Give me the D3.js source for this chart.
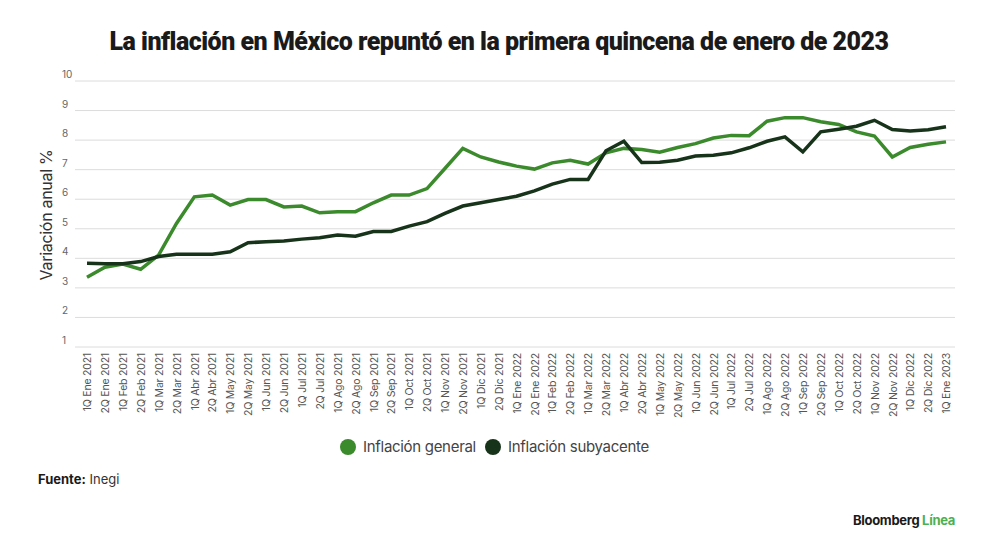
<!DOCTYPE html>
<html>
<head>
<meta charset="utf-8">
<script src="https://cdn.jsdelivr.net/npm/d3@7"></script>
<style>
  body { margin: 0; background: #fff; }
  svg { display: block; }
</style>
</head>
<body>
<div class="chart"></div>
<script>
const quincenas = [
  '1Q Ene 2021', '2Q Ene 2021', '1Q Feb 2021', '2Q Feb 2021', '1Q Mar 2021', '2Q Mar 2021',
  '1Q Abr 2021', '2Q Abr 2021', '1Q May 2021', '2Q May 2021', '1Q Jun 2021', '2Q Jun 2021',
  '1Q Jul 2021', '2Q Jul 2021', '1Q Ago 2021', '2Q Ago 2021', '1Q Sep 2021', '2Q Sep 2021',
  '1Q Oct 2021', '2Q Oct 2021', '1Q Nov 2021', '2Q Nov 2021', '1Q Dic 2021', '2Q Dic 2021',
  '1Q Ene 2022', '2Q Ene 2022', '1Q Feb 2022', '2Q Feb 2022', '1Q Mar 2022', '2Q Mar 2022',
  '1Q Abr 2022', '2Q Abr 2022', '1Q May 2022', '2Q May 2022', '1Q Jun 2022', '2Q Jun 2022',
  '1Q Jul 2022', '2Q Jul 2022', '1Q Ago 2022', '2Q Ago 2022', '1Q Sep 2022', '2Q Sep 2022',
  '1Q Oct 2022', '2Q Oct 2022', '1Q Nov 2022', '2Q Nov 2022', '1Q Dic 2022', '2Q Dic 2022',
  '1Q Ene 2023'
];

const general = [
  3.36, 3.70, 3.81, 3.63, 4.11, 5.18, 6.08, 6.14, 5.80, 5.99, 5.99, 5.74,
  5.77, 5.54, 5.58, 5.58, 5.88, 6.14, 6.14, 6.36, 7.04, 7.72, 7.43, 7.26,
  7.12, 7.02, 7.23, 7.32, 7.19, 7.57, 7.72, 7.68, 7.59, 7.75, 7.88, 8.07,
  8.16, 8.15, 8.64, 8.76, 8.76, 8.62, 8.53, 8.28, 8.14, 7.43, 7.75, 7.86,
  7.94
];

const subyacente = [
  3.83, 3.82, 3.82, 3.89, 4.06, 4.14, 4.14, 4.14, 4.22, 4.53, 4.56, 4.59,
  4.65, 4.70, 4.79, 4.75, 4.91, 4.91, 5.09, 5.24, 5.52, 5.77, 5.88, 5.99,
  6.10, 6.28, 6.51, 6.67, 6.67, 7.64, 7.96, 7.24, 7.25, 7.32, 7.46, 7.49,
  7.57, 7.74, 7.96, 8.11, 7.60, 8.28, 8.37, 8.47, 8.67, 8.36, 8.31, 8.35,
  8.45
];

const yTicks = [1, 2, 3, 4, 5, 6, 7, 8, 9, 10];

const series = [
  { name: 'Inflación general', values: general, color: '#3b8a2c' },
  { name: 'Inflación subyacente', values: subyacente, color: '#17331a' }
];

const width = 1000;
const height = 550;

const svg = d3.select('.chart')
  .append('svg')
  .attr('width', width)
  .attr('height', height);

const x = d3.scalePoint().domain(quincenas).range([87, 946]);
const y = d3.scaleLinear().domain([1, 10]).range([347, 81]);

// title
svg.append('text')
  .attr('x', 499)
  .attr('y', 50)
  .attr('text-anchor', 'middle')
  .attr('font-family', 'Roboto, sans-serif')
  .attr('font-weight', 900)
  .attr('font-size', 25)
  .attr('letter-spacing', -0.5)
  .attr('fill', '#1a1a1a')
  .text('La inflación en México repuntó en la primera quincena de enero de 2023');

// grid + y labels
const grid = svg.append('g').attr('class', 'grid');
grid.selectAll('line')
  .data(yTicks)
  .enter()
  .append('line')
  .attr('x1', 75)
  .attr('x2', 955)
  .attr('y1', d => y(d))
  .attr('y2', d => y(d))
  .attr('stroke', '#dcdcdc')
  .attr('stroke-width', 1);

grid.selectAll('text')
  .data(yTicks)
  .enter()
  .append('text')
  .attr('x', 62)
  .attr('y', d => y(d) - 3)
  .attr('font-family', 'Inter, sans-serif')
  .attr('font-size', 10)
  .attr('fill', '#666')
  .text(d => d);

svg.append('text')
  .attr('transform', 'translate(52, 215) rotate(-90)')
  .attr('text-anchor', 'middle')
  .attr('font-family', 'Inter, sans-serif')
  .attr('font-size', 16)
  .attr('letter-spacing', -0.3)
  .attr('fill', '#333')
  .text('Variación anual %');

// x axis labels
const xAxisGroup = svg.append('g')
  .attr('transform', `translate(0, 347)`);

const xAxis = d3.axisBottom(x).tickSize(0).tickPadding(0);
xAxisGroup.call(xAxis);
xAxisGroup.select('.domain').remove();
xAxisGroup.selectAll('text')
  .attr('transform', 'rotate(-90)')
  .attr('text-anchor', 'end')
  .attr('x', -6)
  .attr('y', 0)
  .attr('dy', '0.35em')
  .attr('font-family', 'Inter, sans-serif')
  .attr('font-size', 10.5)
  .attr('letter-spacing', -0.2)
  .attr('fill', '#555');

// lines
const line = d3.line()
  .x((d, i) => x(quincenas[i]))
  .y(d => y(d));

svg.append('g')
  .selectAll('path')
  .data(series)
  .enter()
  .append('path')
  .attr('fill', 'none')
  .attr('stroke', d => d.color)
  .attr('stroke-width', 3.5)
  .attr('stroke-linejoin', 'miter')
  .attr('d', d => line(d.values));

// legend
const legend = svg.append('g')
  .attr('font-family', 'Inter, sans-serif')
  .attr('font-size', 15);

const legendX = [348, 493];
series.forEach((s, i) => {
  legend.append('circle')
    .attr('cx', legendX[i])
    .attr('cy', 447)
    .attr('r', 8)
    .attr('fill', s.color);
  legend.append('text')
    .attr('x', legendX[i] + 15)
    .attr('y', 452)
    .attr('fill', '#444')
    .attr('letter-spacing', -0.3)
    .text(s.name);
});

// source
const src = svg.append('text')
  .attr('x', 38)
  .attr('y', 484)
  .attr('font-family', 'Inter, sans-serif')
  .attr('font-size', 13)
  .attr('fill', '#333');
src.append('tspan').attr('font-weight', 700).attr('fill', '#1a1a1a').text('Fuente:');
src.append('tspan').text(' Inegi');

// logo
const logo = svg.append('text')
  .attr('x', 955)
  .attr('y', 525)
  .attr('text-anchor', 'end')
  .attr('font-family', 'Inter, sans-serif')
  .attr('font-weight', 700)
  .attr('font-size', 13)
  .attr('letter-spacing', -0.3);
logo.append('tspan').attr('fill', '#1a1a1a').text('Bloomberg ');
logo.append('tspan').attr('fill', '#4cb050').text('Línea');
</script>
</body>
</html>
